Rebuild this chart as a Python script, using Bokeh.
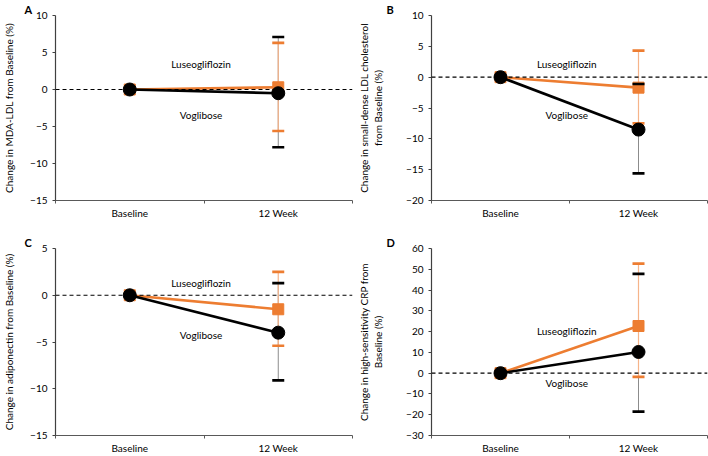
from bokeh.plotting import figure
from bokeh.models import Range1d, FixedTicker, Span
from bokeh.core.properties import value
from bokeh.layouts import column, row
from bokeh.embed import file_html
from bokeh.resources import INLINE

# ---- data ----
categories = ["Baseline", "12 Week"]

mda_luseo = [0.0, 0.3]
mda_luseo_upper = [0.0, 6.3]
mda_luseo_lower = [0.0, -5.6]
mda_vogli = [0.0, -0.5]
mda_vogli_upper = [0.0, 7.1]
mda_vogli_lower = [0.0, -7.8]

sdldl_luseo = [0.0, -1.7]
sdldl_luseo_upper = [0.0, 4.3]
sdldl_luseo_lower = [0.0, -7.5]
sdldl_vogli = [0.0, -8.5]
sdldl_vogli_upper = [0.0, -1.1]
sdldl_vogli_lower = [0.0, -15.6]

adipo_luseo = [0.0, -1.5]
adipo_luseo_upper = [0.0, 2.5]
adipo_luseo_lower = [0.0, -5.4]
adipo_vogli = [0.0, -4.0]
adipo_vogli_upper = [0.0, 1.3]
adipo_vogli_lower = [0.0, -9.1]

crp_luseo = [0.0, 22.7]
crp_luseo_upper = [0.0, 52.7]
crp_luseo_lower = [0.0, -1.8]
crp_vogli = [0.0, 10.2]
crp_vogli_upper = [0.0, 47.8]
crp_vogli_lower = [0.0, -18.5]

series_names = ["Luseogliflozin", "Voglibose"]

FONT = "Lato"
ORANGE = "#ED7D31"
ORANGE_LIGHT = "#F6B48A"
GRAY = "#8C8C8C"

xs = [i + 0.5 for i in range(len(categories))]


def make_panel(letter, ylabel, ymin, ymax, ystep, luseo, lu_up, lu_lo, vogli, vo_up, vo_lo,
               lab_lu_y, lab_vo_y, width, height, bl, br, bt, bb, title_standoff):
    p = figure(width=width, height=height, output_backend="svg", toolbar_location=None,
               x_range=Range1d(0, len(categories)), y_range=Range1d(ymin, ymax),
               min_border_left=bl, min_border_right=br, min_border_top=bt, min_border_bottom=bb)
    p.outline_line_color = None
    p.grid.visible = False
    p.background_fill_color = "white"
    p.border_fill_color = "white"

    # panel letter as title
    p.title.text = letter
    p.title.align = "left"
    p.title.offset = -(bl - 5)
    p.title.standoff = 0
    p.title.text_font = FONT
    p.title.text_font_size = "11px"
    p.title.text_font_style = "bold"
    p.title.text_color = "#000000"
    p.title.text_line_height = 0.8

    # x axis
    xa = p.xaxis[0]
    xa.ticker = FixedTicker(ticks=xs, minor_ticks=[float(i) for i in range(len(categories) + 1)])
    xa.major_label_overrides = {x: c for x, c in zip(xs, categories)}
    xa.major_tick_line_color = None
    xa.major_tick_out = 0
    xa.major_tick_in = 0
    xa.minor_tick_line_color = "#595959"
    xa.minor_tick_out = 3
    xa.minor_tick_in = 0
    xa.axis_line_color = "#595959"
    xa.axis_line_width = 1.2
    xa.major_label_text_font = FONT
    xa.major_label_text_font_size = "10px"
    xa.major_label_text_color = "#000000"
    xa.major_label_standoff = 3

    # y axis
    ya = p.yaxis[0]
    ya.ticker = FixedTicker(ticks=list(range(ymin, ymax + 1, ystep)))
    ya.minor_tick_line_color = None
    ya.major_tick_out = 3
    ya.major_tick_in = 0
    ya.major_tick_line_color = "#404040"
    ya.axis_line_color = "#404040"
    ya.axis_line_width = 1.2
    ya.major_label_text_font = FONT
    ya.major_label_text_font_size = "10px"
    ya.major_label_text_color = "#000000"
    ya.major_label_standoff = 5
    ya.axis_label = ylabel
    ya.axis_label_text_font = FONT
    ya.axis_label_text_font_size = "10px"
    ya.axis_label_text_font_style = "normal"
    ya.axis_label_text_color = "#000000"
    ya.axis_label_standoff = title_standoff

    # zero line
    p.add_layout(Span(location=0, dimension="width", line_color="#000000",
                      line_width=1.2, line_dash="4 3"))

    ex = [x for x, u, l in zip(xs, vo_up, vo_lo) if u != l]
    # error lines
    p.segment(x0=ex, x1=ex, y0=[l for u, l in zip(vo_up, vo_lo) if u != l],
              y1=[u for u, l in zip(vo_up, vo_lo) if u != l], line_color=GRAY, line_width=1)
    exl = [x for x, u, l in zip(xs, lu_up, lu_lo) if u != l]
    p.segment(x0=exl, x1=exl, y0=[l for u, l in zip(lu_up, lu_lo) if u != l],
              y1=[u for u, l in zip(lu_up, lu_lo) if u != l], line_color=ORANGE_LIGHT, line_width=1.2)

    # Luseogliflozin
    p.line(xs, luseo, line_color=ORANGE, line_width=2.6)
    p.scatter(xs, luseo, marker="square", size=11, fill_color=ORANGE, line_color=ORANGE)
    caps_lu = [v for u, l in zip(lu_up, lu_lo) if u != l for v in (u, l)]
    p.scatter([x for x in exl for _ in (0, 1)], caps_lu, marker="dash", size=12,
              line_color=ORANGE, line_width=2.6)

    # Voglibose
    p.line(xs, vogli, line_color="#000000", line_width=2.6)
    p.scatter(xs, vogli, marker="circle", size=13, fill_color="#000000", line_color="#000000")
    caps_vo = [v for u, l in zip(vo_up, vo_lo) if u != l for v in (u, l)]
    p.scatter([x for x in ex for _ in (0, 1)], caps_vo, marker="dash", size=12,
              line_color="#000000", line_width=2.6)

    # series labels
    p.text(x=[0.98, 0.98], y=[lab_lu_y, lab_vo_y], text=series_names,
           text_align="center", text_baseline="middle", text_font_size="10px",
           text_color="#000000", text_font=value(FONT))
    return p


pa = make_panel("A", "Change in MDA-LDL from Baseline (%)", -15, 10, 5,
                mda_luseo, mda_luseo_upper, mda_luseo_lower,
                mda_vogli, mda_vogli_upper, mda_vogli_lower,
                3.5, -3.5, 354, 228, 36, 2, 12, 26, 12)
pb = make_panel("B", "Change in small-dense LDL cholesterol\nfrom Baseline (%)", -20, 10, 5,
                sdldl_luseo, sdldl_luseo_upper, sdldl_luseo_lower,
                sdldl_vogli, sdldl_vogli_upper, sdldl_vogli_lower,
                2.1, -6.2, 354, 228, 50, 1, 10, 28, 19)
pc = make_panel("C", "Change in adiponectin from Baseline (%)", -15, 5, 5,
                adipo_luseo, adipo_luseo_upper, adipo_luseo_lower,
                adipo_vogli, adipo_vogli_upper, adipo_vogli_lower,
                1.3, -4.3, 354, 228, 36, 2, 20, 17, 12)
pd_ = make_panel("D", "Change in high-sensitivity CRP from\nBaseline (%)", -30, 60, 10,
                 crp_luseo, crp_luseo_upper, crp_luseo_lower,
                 crp_vogli, crp_vogli_upper, crp_vogli_lower,
                 20.2, -4.8, 354, 228, 50, 1, 20, 17, 19)

layout = column(row(pa, pb, spacing=0), row(pc, pd_, spacing=0), spacing=0)

open("out.html", "w").write(file_html(layout, INLINE))
